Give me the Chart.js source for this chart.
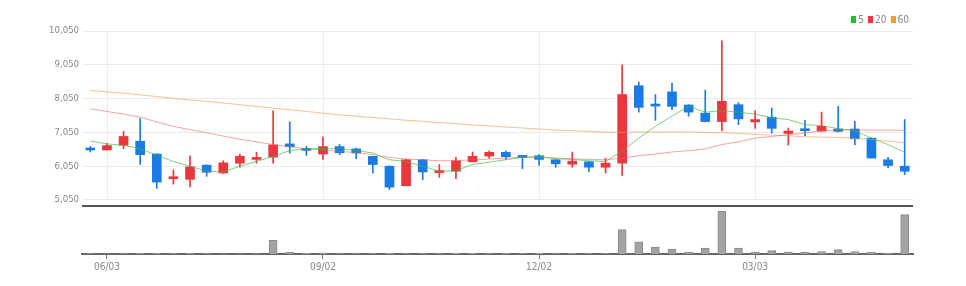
<!DOCTYPE html>
<html>
<head>
<meta charset="utf-8">
<script src="https://cdn.jsdelivr.net/npm/chart.js@4/dist/chart.umd.min.js"></script>
<style>
  html, body { margin: 0; padding: 0; background: #fff; }
  #wrap { position: relative; width: 966px; height: 286px; }
  #legend {
    position: absolute; top: 14px; right: 57px;
    display: flex; align-items: center;
    font: 10px 'Liberation Sans Narrow', 'DejaVu Sans Condensed', sans-serif;
    color: #888;
  }
  #legend .sw { display: inline-block; width: 5px; height: 7px; margin: 0 2px 0 4px; }
</style>
</head>
<body>
<div id="wrap">
  <canvas id="chart" width="966" height="286"></canvas>
  <div id="legend">
    <span class="sw" style="background:#22bb33"></span>5
    <span class="sw" style="background:#e8383d"></span>20
    <span class="sw" style="background:#f39b3c"></span>60
  </div>
</div>
<script>
// weekly candles
const dates = [
    '05/27', '06/03', '06/10', '06/17', '06/24', '07/01', '07/08', '07/15', '07/22', '07/29',
    '08/05', '08/12', '08/19', '08/26', '09/02', '09/09', '09/16', '09/23', '09/30', '10/07',
    '10/14', '10/21', '10/28', '11/04', '11/11', '11/18', '11/25', '12/02', '12/09', '12/16',
    '12/23', '12/30', '01/06', '01/13', '01/20', '01/27', '02/03', '02/10', '02/17', '02/24',
    '03/03', '03/10', '03/17', '03/24', '03/31', '04/07', '04/14', '04/21', '04/28', '05/05'
];
const opens = [
    6590, 6530, 6670, 6790, 6410, 5680, 5660, 6080, 5850, 6140,
    6250, 6320, 6710, 6550, 6410, 6630, 6560, 6340, 6050, 5470,
    6240, 5860, 5900, 6180, 6350, 6460, 6340, 6360, 6240, 6110,
    6180, 6020, 6140, 8430, 7860, 8250, 7860, 7620, 7370, 7870,
    7360, 7500, 7020, 7130, 7090, 7150, 7150, 6880, 6240, 6050
];
const highs = [
    6630, 6720, 7080, 7460, 6420, 5940, 6360, 6090, 6210, 6410,
    6460, 7690, 7360, 6640, 6910, 6690, 6590, 6350, 6060, 6250,
    6250, 6100, 6310, 6470, 6500, 6500, 6360, 6390, 6250, 6470,
    6190, 6290, 9050, 8540, 8170, 8510, 7870, 8300, 9760, 7930,
    7690, 7770, 7180, 7410, 7650, 7820, 7380, 6890, 6310, 7430
];
const lows = [
    6470, 6530, 6570, 6100, 5390, 5520, 5440, 5750, 5840, 6020,
    6140, 6140, 6440, 6370, 6250, 6390, 6270, 5850, 5360, 5470,
    5650, 5720, 5680, 6180, 6290, 6250, 5980, 6080, 6020, 6020,
    5890, 5850, 5780, 7650, 7410, 7720, 7530, 7360, 7100, 7280,
    7170, 7030, 6670, 6950, 7080, 7060, 6690, 6290, 6000, 5800
];
const closes = [
    6530, 6660, 6930, 6390, 5580, 5710, 6030, 5870, 6150, 6340,
    6300, 6680, 6630, 6520, 6630, 6450, 6440, 6100, 5430, 6240,
    5880, 5920, 6210, 6340, 6460, 6330, 6310, 6250, 6120, 6200,
    6020, 6140, 8170, 7790, 7830, 7820, 7650, 7370, 7970, 7450,
    7430, 7170, 7090, 7100, 7230, 7080, 6860, 6290, 6070, 5900
];
const volumes = [
    15000, 10000, 15000, 40000, 40000, 15000, 40000, 15000, 10000, 10000,
    15000, 680000, 80000, 40000, 60000, 15000, 15000, 20000, 40000, 15000,
    15000, 15000, 40000, 40000, 15000, 40000, 15000, 40000, 15000, 40000,
    15000, 20000, 1215000, 610000, 350000, 250000, 100000, 300000, 2130000, 300000,
    100000, 165000, 100000, 100000, 115000, 215000, 115000, 100000, 50000, 1965000
];
const ma5 = [
    6790, 6710, 6670, 6570, 6370, 6190, 6050, 5900, 5880, 6050,
    6190, 6340, 6510, 6570, 6570, 6570, 6510, 6440, 6240, 6190,
    6050, 5900, 5920, 6100, 6170, 6240, 6310, 6340, 6270, 6250,
    6210, 6190, 6490, 6880, 7230, 7530, 7820, 7650, 7690, 7650,
    7590, 7480, 7430, 7280, 7250, 7160, 7100, 6880, 6690, 6460
];
const ma20 = [
    7750, 7670, 7590, 7500, 7360, 7230, 7130, 7040, 6940, 6850,
    6770, 6690, 6620, 6570, 6530, 6490, 6450, 6390, 6310, 6260,
    6240, 6210, 6210, 6240, 6260, 6290, 6310, 6310, 6290, 6270,
    6250, 6240, 6290, 6360, 6410, 6470, 6510, 6560, 6690, 6770,
    6880, 6930, 6980, 7030, 7100, 7120, 7120, 7120, 7120, 7110
];
const ma60 = [
    8290, 8250, 8210, 8160, 8110, 8060, 8010, 7970, 7920, 7870,
    7820, 7770, 7720, 7670, 7620, 7570, 7530, 7490, 7450, 7410,
    7380, 7340, 7310, 7270, 7240, 7210, 7180, 7150, 7120, 7100,
    7080, 7060, 7050, 7060, 7060, 7060, 7060, 7050, 7040, 7020,
    6990, 6970, 6950, 6920, 6910, 6900, 6870, 6840, 6790, 6740
];
const priceTicks = [5050, 6050, 7050, 8050, 9050, 10050];
const tickLabels = ['06/03', '09/02', '12/02', '03/03'];

const UP = '#e8383d';
const DOWN = '#1a7be6';
const FONT = "'Liberation Sans Narrow', 'DejaVu Sans Condensed', sans-serif";
const VOL_MAX = 2400000;

const candleColors = opens.map((o, i) => (closes[i] >= o ? UP : DOWN));

// light vertical grid only inside the price pane
const priceGrid = {
    id: 'priceGrid',
    beforeDatasetsDraw(chart) {
        const { ctx, scales: { x, y } } = chart;
        ctx.save();
        ctx.strokeStyle = '#ececec';
        ctx.lineWidth = 1;
        x.ticks.forEach(t => {
            const px = Math.round(x.getPixelForValue(t.value)) + 0.5;
            ctx.beginPath();
            ctx.moveTo(px, y.top);
            ctx.lineTo(px, y.getPixelForValue(priceTicks[0]));
            ctx.stroke();
        });
        ctx.restore();
    }
};

Chart.defaults.font.family = FONT;
Chart.defaults.color = '#888';

new Chart(document.getElementById('chart'), {
    type: 'bar',
    data: {
        labels: dates,
        datasets: [
            { type: 'line', label: '5', data: ma5, yAxisID: 'y', borderColor: 'rgba(60,185,60,0.65)', borderWidth: 1, pointRadius: 0, order: 0 },
            { type: 'line', label: '20', data: ma20, yAxisID: 'y', borderColor: 'rgba(235,90,95,0.55)', borderWidth: 1, pointRadius: 0, order: 0 },
            { type: 'line', label: '60', data: ma60, yAxisID: 'y', borderColor: 'rgba(242,150,80,0.6)', borderWidth: 1, pointRadius: 0, order: 0 },
            {
                label: 'body',
                data: opens.map((o, i) => [o, closes[i]]),
                yAxisID: 'y',
                backgroundColor: candleColors,
                barThickness: 9,
                minBarLength: 2,
                grouped: false,
                order: 1
            },
            {
                label: 'wick',
                data: lows.map((l, i) => [l, highs[i]]),
                yAxisID: 'y',
                backgroundColor: candleColors,
                barThickness: 1,
                grouped: false,
                order: 2
            },
            {
                label: 'volume',
                data: volumes,
                yAxisID: 'yv',
                backgroundColor: '#a3a3a3',
                borderColor: '#8a8a8a',
                borderWidth: 1,
                barThickness: 8,
                grouped: false,
                order: 3
            }
        ]
    },
    options: {
        responsive: false,
        animation: false,
        layout: { padding: { left: 0, right: 53, top: 31, bottom: 12 } },
        plugins: {
            legend: { display: false },
            tooltip: { enabled: false }
        },
        scales: {
            x: {
                grid: { drawOnChartArea: false, offset: false, tickLength: 5, tickColor: '#777' },
                border: { color: '#666', width: 2 },
                ticks: { autoSkip: false, maxRotation: 0, padding: 2, font: { size: 10 } },
                afterBuildTicks: s => {
                    s.ticks = s.ticks.filter(t => tickLabels.includes(dates[t.value]));
                },
                afterFit: s => { s.height = 20; }
            },
            yv: {
                position: 'left',
                stack: 'main',
                stackWeight: 48,
                min: 0,
                max: VOL_MAX,
                grid: { color: '#555', lineWidth: 2, drawTicks: false },
                border: { display: false },
                ticks: { display: false },
                afterBuildTicks: s => { s.ticks = [{ value: VOL_MAX }]; },
                afterFit: s => { s.width = 82; }
            },
            y: {
                position: 'left',
                stack: 'main',
                stackWeight: 175,
                min: 4872,
                max: 10050,
                grid: { color: '#ebebeb', drawTicks: false },
                border: { display: false },
                ticks: {
                    padding: 3,
                    font: { size: 9.5 },
                    callback: v => v.toLocaleString('en-US')
                },
                afterBuildTicks: s => { s.ticks = priceTicks.map(v => ({ value: v })); },
                afterFit: s => { s.width = 82; }
            }
        }
    },
    plugins: [priceGrid]
});
</script>
</body>
</html>
